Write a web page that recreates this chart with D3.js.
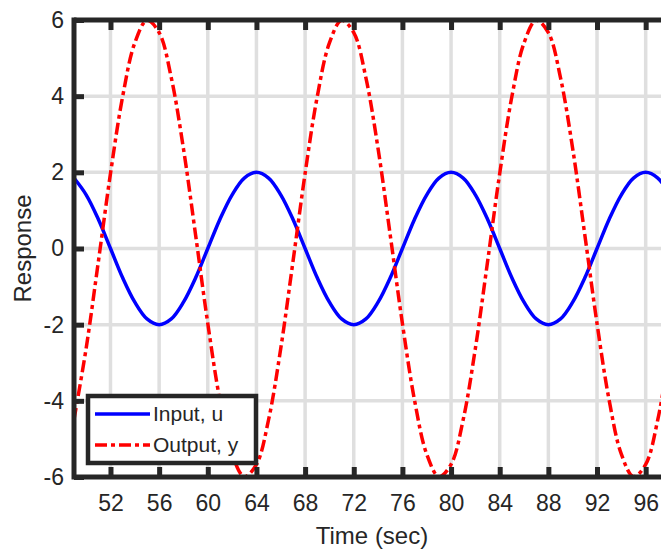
<!DOCTYPE html>
<html lang="en">
<meta charset="utf-8"/>
<head>
<script src="https://d3js.org/d3.v7.min.js"></script>
</head>
<style>
  body { margin:0; background:#fff; }
  text { font-family: "Liberation Sans", Arial, sans-serif; fill:#262626; }
</style>
<body>
<script>
// time samples (sec) and values
var time = [49,50,51,52,53,54,55,56,57,58,59,60,61,62,63,64,
            65,66,67,68,69,70,71,72,73,74,75,76,77,78,79,80,
            81,82,83,84,85,86,87,88,89,90,91,92,93,94,95,96,97,98];
var inputU = [1.85,1.41,0.77,0,-0.77,-1.41,-1.85,-2,-1.85,-1.41,-0.77,0,0.77,1.41,1.85,2,
              1.85,1.41,0.77,0,-0.77,-1.41,-1.85,-2,-1.85,-1.41,-0.77,0,0.77,1.41,1.85,2,
              1.85,1.41,0.77,0,-0.77,-1.41,-1.85,-2,-1.85,-1.41,-0.77,0,0.77,1.41,1.85,2,1.85,1.41];
var outputY = [-4.49,-2.62,-0.35,1.97,3.99,5.40,5.99,5.67,4.48,2.62,0.35,-1.97,-3.99,-5.40,-5.99,-5.67,
               -4.49,-2.62,-0.35,1.97,3.99,5.40,5.99,5.67,4.48,2.62,0.35,-1.97,-3.99,-5.40,-5.99,-5.67,
               -4.49,-2.62,-0.35,1.97,3.99,5.40,5.99,5.67,4.48,2.62,0.35,-1.97,-3.99,-5.40,-5.99,-5.67,-4.49,-2.62];
var xTicks = [52,56,60,64,68,72,76,80,84,88,92,96];
var yTicks = [-6,-4,-2,0,2,4,6];
var legendLabels = ["Input, u", "Output, y"];

var margin = {top: 20, left: 74},
    width = 596,
    height = 457;

var svg = d3.select("body").append("svg")
    .attr("width", 661)
    .attr("height", 549);

var g = svg.append("g")
    .attr("transform", "translate(" + margin.left + "," + margin.top + ")");

var x = d3.scaleLinear().domain([49, 98]).range([0, width]);
var y = d3.scaleLinear().domain([-6, 6]).range([height, 0]);

g.append("clipPath").attr("id", "clip")
  .append("rect").attr("width", width).attr("height", height);

// grid
g.selectAll(".vgrid").data(xTicks).enter().append("line")
    .attr("x1", d => x(d)).attr("x2", d => x(d))
    .attr("y1", 0).attr("y2", height)
    .attr("stroke", "#dfdfdf").attr("stroke-width", 3.5);
g.selectAll(".hgrid").data(yTicks).enter().append("line")
    .attr("x1", 0).attr("x2", width)
    .attr("y1", d => y(d)).attr("y2", d => y(d))
    .attr("stroke", "#dfdfdf").attr("stroke-width", 3.5);

var line = d3.line().curve(d3.curveCatmullRom);
var uPts = time.map((t, i) => [x(t), y(inputU[i])]);
var yPts = time.map((t, i) => [x(t), y(outputY[i])]);

g.append("path").attr("d", line(uPts))
    .attr("fill", "none").attr("stroke", "#0000ff").attr("stroke-width", 3.5)
    .attr("clip-path", "url(#clip)");
g.append("path").attr("d", line(yPts))
    .attr("fill", "none").attr("stroke", "#ff0000").attr("stroke-width", 3.5)
    .attr("stroke-dasharray", "12,4,4,4")
    .attr("clip-path", "url(#clip)");

// axes
var axCol = "#262626";
g.append("g").attr("transform", "translate(0," + height + ")")
  .call(d3.axisBottom(x).tickValues(xTicks).tickSize(-10).tickPadding(18).tickFormat(d3.format("d")))
  .call(a => { a.select(".domain").remove(); a.selectAll("text").attr("font-size", 23).attr("fill", axCol); });
g.append("g")
  .call(d3.axisLeft(y).tickValues(yTicks).tickSize(-10).tickPadding(10).tickFormat(d => d < 0 ? "-" + Math.abs(d) : d))
  .call(a => { a.select(".domain").remove(); a.selectAll("text").attr("font-size", 23).attr("fill", axCol); });
g.append("g")
  .call(d3.axisTop(x).tickValues(xTicks).tickSize(-10).tickFormat(""))
  .call(a => a.select(".domain").remove());
g.selectAll(".tick line").attr("stroke", axCol).attr("stroke-width", 5);

g.append("line").attr("x1", 0).attr("x2", width).attr("y1", height).attr("y2", height)
    .attr("stroke", axCol).attr("stroke-width", 5);
g.append("line").attr("x1", 0).attr("x2", width).attr("y1", 0).attr("y2", 0)
    .attr("stroke", axCol).attr("stroke-width", 5);
g.append("line").attr("x1", 0).attr("x2", 0).attr("y1", -2.5).attr("y2", height + 2.5)
    .attr("stroke", axCol).attr("stroke-width", 5);

svg.append("text").attr("x", margin.left + width / 2).attr("y", 544)
    .attr("text-anchor", "middle").attr("font-size", 24).text("Time (sec)");
svg.append("text").attr("transform", "translate(31," + (margin.top + height / 2) + ") rotate(-90)")
    .attr("text-anchor", "middle").attr("font-size", 24).text("Response");

// legend
var leg = svg.append("g").attr("transform", "translate(88,396)");
leg.append("rect").attr("width", 168).attr("height", 67)
    .attr("fill", "#fff").attr("stroke", axCol).attr("stroke-width", 4.5);
var legColors = ["#0000ff", "#ff0000"];
var legDash = [null, "12,4,4,4"];
legendLabels.forEach(function(lbl, i) {
  var ly = 18 + i * 31;
  leg.append("line").attr("x1", 7).attr("x2", 62).attr("y1", ly).attr("y2", ly)
      .attr("stroke", legColors[i]).attr("stroke-width", 3.5)
      .attr("stroke-dasharray", legDash[i]);
  leg.append("text").attr("x", 65).attr("y", ly + 7).attr("font-size", 21).text(lbl);
});
</script>
</body>
</html>
